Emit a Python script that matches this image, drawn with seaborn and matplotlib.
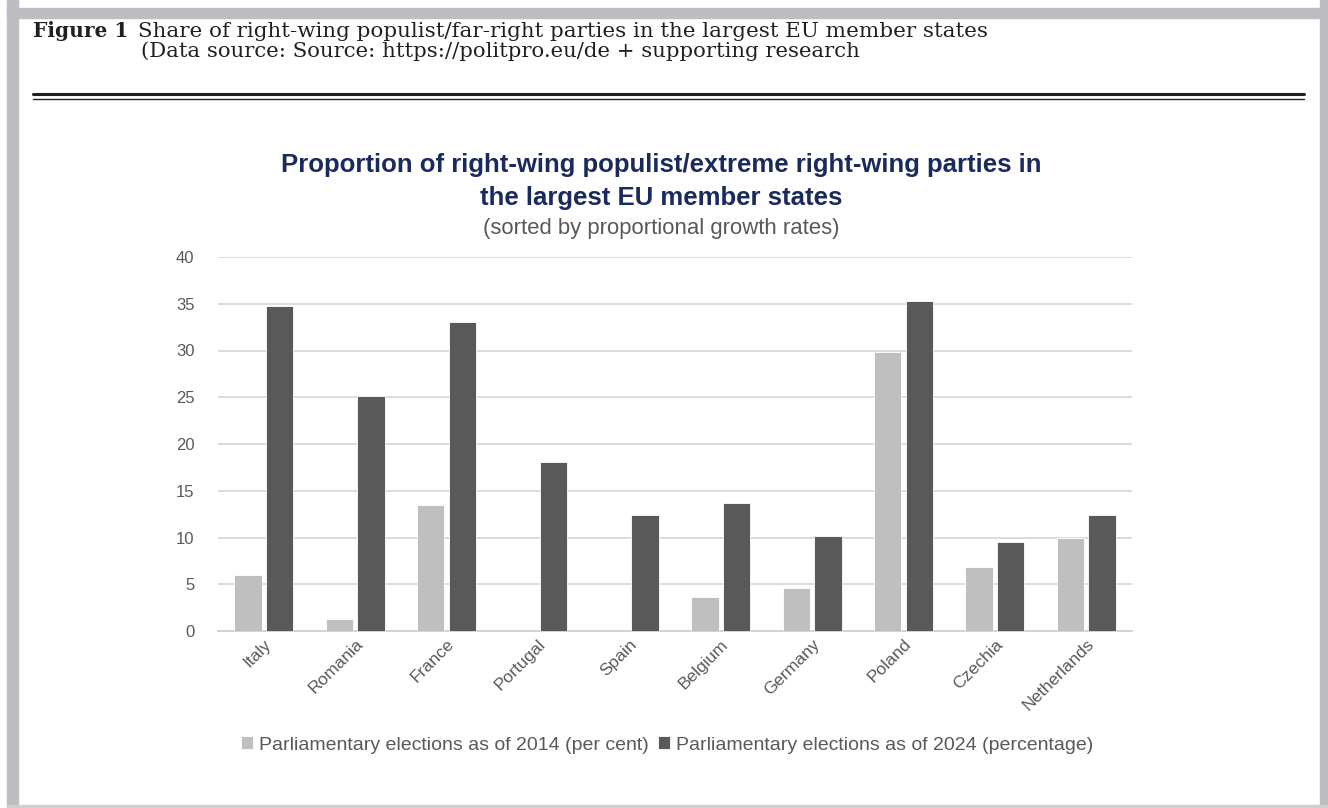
import matplotlib
matplotlib.use("Agg")
import matplotlib.pyplot as plt
import seaborn as sns
import pandas as pd
from matplotlib.patches import Rectangle
from matplotlib.lines import Line2D

countries = ["Italy", "Romania", "France", "Portugal", "Spain", "Belgium",
             "Germany", "Poland", "Czechia", "Netherlands"]
share_2014 = [6.0, 1.3, 13.5, 0.0, 0.0, 3.6, 4.6, 29.8, 6.8, 10.0]
share_2024 = [34.8, 25.1, 33.1, 18.1, 12.4, 13.7, 10.2, 35.3, 9.5, 12.4]
series_names = ["Parliamentary elections as of 2014 (per cent)",
                "Parliamentary elections as of 2024 (percentage)"]
yticks = [0, 5, 10, 15, 20, 25, 30, 35, 40]

df = pd.DataFrame({"country": countries,
                   series_names[0]: share_2014,
                   series_names[1]: share_2024})
long = df.melt(id_vars="country", var_name="series", value_name="share")

sns.set_theme(style="white")
plt.rcParams["font.family"] = ["Liberation Sans", "DejaVu Sans"]

W, H = 1328, 808
fig = plt.figure(figsize=(W / 100, H / 100), dpi=100)
fig.patch.set_facecolor("white")
renderer = fig.canvas.get_renderer()


def fx(px):
    return px / W


def fy(py):
    return 1 - py / H


def fit(t, width_px):
    w = t.get_window_extent(renderer=renderer).width
    t.set_fontsize(t.get_fontsize() * width_px / w)
    return t


frame = "#bdbec2"
fig.patches.append(Rectangle((fx(7), fy(808)), fx(11), 1, transform=fig.transFigure, color=frame, zorder=0))
fig.patches.append(Rectangle((fx(7), fy(18)), fx(1321), fy(8) - fy(18), transform=fig.transFigure, color=frame, zorder=0))
fig.patches.append(Rectangle((fx(1320), fy(808)), fx(8), 1, transform=fig.transFigure, color=frame, zorder=0))
fig.patches.append(Rectangle((fx(7), fy(808)), fx(1321), fy(805) - fy(808), transform=fig.transFigure, color="#cfcfcf", zorder=0))

hdr = dict(family="DejaVu Serif", fontsize=13, color="#231f20", va="baseline", ha="left")
fit(fig.text(fx(33), fy(37), "Figure 1", weight="bold", **hdr), 95)
fit(fig.text(fx(138), fy(37), "Share of right-wing populist/far-right parties in the largest EU member states", **hdr), 846)
fit(fig.text(fx(141), fy(57), "(Data source: Source: https://politpro.eu/de + supporting research", **hdr), 718)
fig.lines.append(Line2D([fx(33), fx(1304)], [fy(94), fy(94)], transform=fig.transFigure, color="#231f20", lw=2.2))
fig.lines.append(Line2D([fx(33), fx(1304)], [fy(98.5), fy(98.5)], transform=fig.transFigure, color="#231f20", lw=1.0))

ax = fig.add_axes([fx(218), fy(631), fx(1132) - fx(218), fy(257) - fy(631)])
sns.barplot(data=long, x="country", y="share", hue="series",
            palette=["#bfbfbf", "#595959"], width=0.69, gap=0.13,
            edgecolor="white", linewidth=0.6, ax=ax, legend=True, zorder=3)

ax.set_ylim(0, 40)
ax.set_yticks(yticks)
ax.yaxis.grid(True, color="#d9d9d9", lw=1.3, zorder=0)
ax.set_axisbelow(True)
for s in ["left", "right", "top"]:
    ax.spines[s].set_visible(False)
ax.spines["bottom"].set_color("#d0d0d0")
ax.spines["bottom"].set_linewidth(1.3)
ax.set_xlabel("")
ax.set_ylabel("")
ax.tick_params(axis="y", length=0, labelsize=12, labelcolor="#595959", pad=17)
ax.tick_params(axis="x", length=0, labelsize=12.5, labelcolor="#595959", pad=4)
for lab in ax.get_xticklabels():
    lab.set_rotation(45)
    lab.set_ha("right")
    lab.set_rotation_mode("anchor")

t1 = fit(fig.text(fx(661), fy(165), "Proportion of right-wing populist/extreme right-wing parties in",
                  fontsize=17, weight="bold", color="#1b2a5c", ha="center", va="center"), 763)
fig.text(fx(661), fy(198), "the largest EU member states", fontsize=t1.get_fontsize(),
         weight="bold", color="#1b2a5c", ha="center", va="center")
fit(fig.text(fx(661), fy(229), "(sorted by proportional growth rates)",
             fontsize=13, color="#595959", ha="center", va="center"), 357)

handles, labels = ax.get_legend_handles_labels()
ax.get_legend().remove()
fig.legend(handles, labels, loc="center", bbox_to_anchor=(fx(667), fy(745)), ncol=2,
           frameon=False, fontsize=14, labelcolor="#595959",
           handlelength=0.6, handleheight=0.6, handletextpad=0.3, columnspacing=0.5)

fig.savefig("out.png", dpi=100)
